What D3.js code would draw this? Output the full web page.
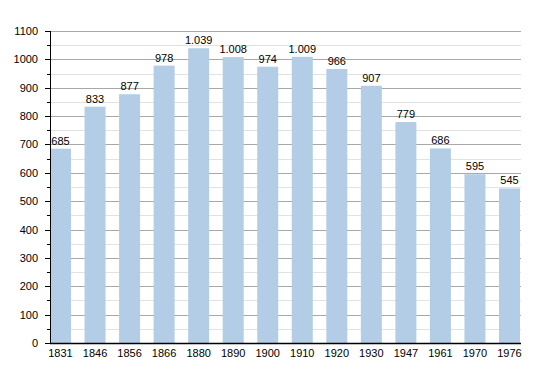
<!DOCTYPE html>
<html>
<head>
<meta charset="utf-8">
<script src="https://cdn.jsdelivr.net/npm/d3@7"></script>
<style>
  body { margin: 0; background: #fff; }
  text { font-family: "Liberation Sans", Arial, sans-serif; font-size: 11px; fill: #000; }
</style>
</head>
<body>
<svg id="chart" width="550" height="373"></svg>
<script>
var years = ["1831","1846","1856","1866","1880","1890","1900","1910","1920","1930","1947","1961","1970","1976"];
var population = [685, 833, 877, 978, 1039, 1008, 974, 1009, 966, 907, 779, 686, 595, 545];
var yTicks = [0,100,200,300,400,500,600,700,800,900,1000,1100];

var svg = d3.select("#chart");
var plotLeft = 50, plotRight = 521, plotTop = 31, plotBottom = 343;

var x = d3.scaleBand().domain(years).range([plotLeft, 520]).paddingInner(0.392).paddingOuter(0);
var y = d3.scaleLinear().domain([0, 1100]).range([plotBottom, plotTop]);

// minor grid every 50
var minor = d3.range(50, 1100, 100);
svg.append("g").selectAll("line").data(minor).enter().append("line")
  .attr("x1", plotLeft).attr("x2", plotRight)
  .attr("y1", function(d){ return Math.round(y(d)) + 0.5; })
  .attr("y2", function(d){ return Math.round(y(d)) + 0.5; })
  .attr("stroke", "#e2e2e2");

// major grid
svg.append("g").selectAll("line").data(yTicks.slice(1)).enter().append("line")
  .attr("x1", plotLeft).attr("x2", plotRight)
  .attr("y1", function(d){ return Math.round(y(d)) + 0.5; })
  .attr("y2", function(d){ return Math.round(y(d)) + 0.5; })
  .attr("stroke", "#a8a8a8");

// bars
svg.append("g").selectAll("rect").data(population).enter().append("rect")
  .attr("x", function(d, i){ return x(years[i]); })
  .attr("width", x.bandwidth())
  .attr("y", function(d){ return y(d); })
  .attr("height", function(d){ return plotBottom - y(d); })
  .attr("fill", "#b3cde6");

// value labels, dot as thousands separator
var fmt = d3.formatLocale({decimal: ",", thousands: ".", grouping: [3], currency: ["", ""]}).format(",");
svg.append("g").selectAll("text").data(population).enter().append("text")
  .attr("x", function(d, i){ return x(years[i]) + x.bandwidth() / 2; })
  .attr("y", function(d){ return y(d) - 4; })
  .attr("text-anchor", "middle")
  .text(function(d){ return fmt(d); });

// y axis
var yAxis = svg.append("g");
yAxis.append("line").attr("x1", plotLeft + 0.5).attr("x2", plotLeft + 0.5).attr("y1", plotTop).attr("y2", plotBottom).attr("stroke", "#000");
yAxis.selectAll("line.major").data(yTicks).enter().append("line").attr("class", "major")
  .attr("x1", plotLeft - 5).attr("x2", plotLeft)
  .attr("y1", function(d){ return Math.round(y(d)) + 0.5; })
  .attr("y2", function(d){ return Math.round(y(d)) + 0.5; })
  .attr("stroke", "#000");
yAxis.selectAll("line.minor").data(minor).enter().append("line").attr("class", "minor")
  .attr("x1", plotLeft - 3).attr("x2", plotLeft)
  .attr("y1", function(d){ return Math.round(y(d)) + 0.5; })
  .attr("y2", function(d){ return Math.round(y(d)) + 0.5; })
  .attr("stroke", "#000");
yAxis.selectAll("text").data(yTicks).enter().append("text")
  .attr("x", 38)
  .attr("y", function(d){ return y(d) + 4; })
  .attr("text-anchor", "end")
  .text(function(d){ return d; });

// x axis
svg.append("line").attr("x1", plotLeft).attr("x2", plotRight).attr("y1", plotBottom + 0.5).attr("y2", plotBottom + 0.5).attr("stroke", "#000").attr("stroke-width", 1.5);
svg.append("g").selectAll("text").data(years).enter().append("text")
  .attr("x", function(d){ return x(d) + x.bandwidth() / 2; })
  .attr("y", 357)
  .attr("text-anchor", "middle")
  .text(function(d){ return d; });
</script>
</body>
</html>
